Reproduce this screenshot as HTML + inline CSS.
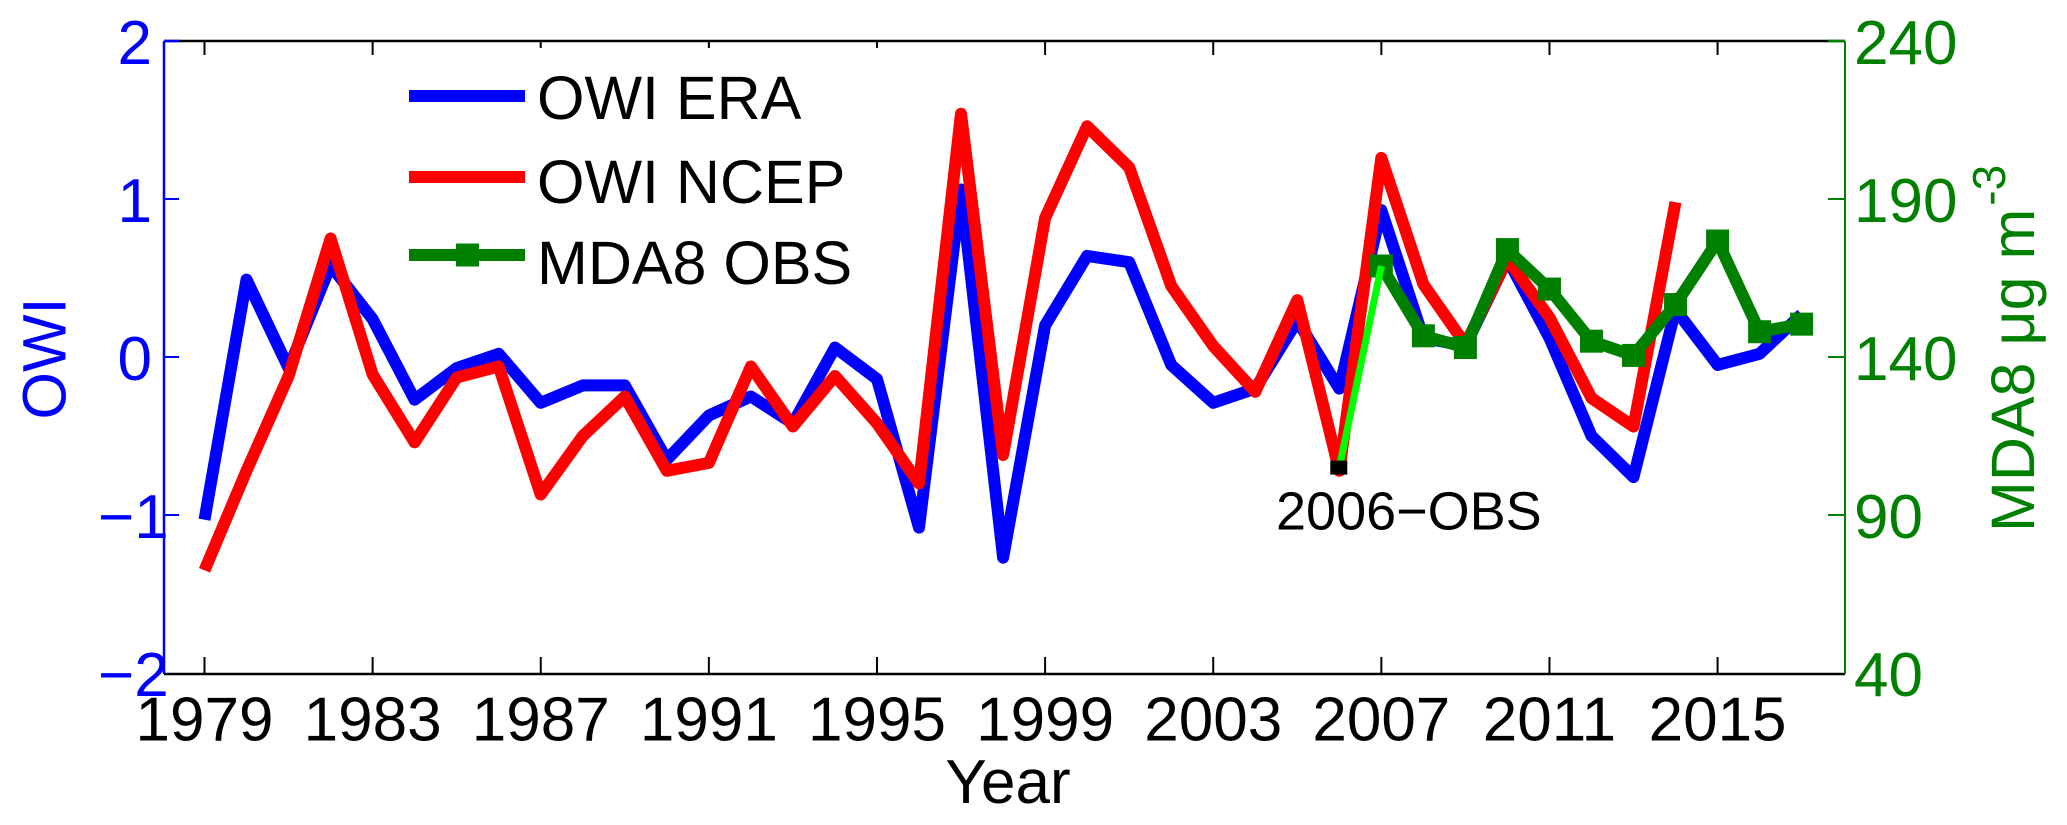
<!DOCTYPE html>
<html>
<head>
<meta charset="utf-8">
<title>OWI and MDA8</title>
<style>
html,body{margin:0;padding:0;background:#fff;width:2067px;height:825px;overflow:hidden}
svg{display:block}
text{font-family:"Liberation Sans",Arial,sans-serif}
</style>
</head>
<body>
<svg id="chart" xmlns="http://www.w3.org/2000/svg" width="2067" height="825" viewBox="0 0 2067 825">
  <rect x="0" y="0" width="2067" height="825" fill="#fff"/>
  <g id="axes"></g>
  <g id="series"></g>
  <g id="legend">
    <line x1="409" y1="96" x2="525" y2="96" stroke="#0000ff" stroke-width="12"/>
    <text x="537" y="119" font-size="61" fill="#000">OWI ERA</text>
    <line x1="409" y1="177" x2="525" y2="177" stroke="#ff0000" stroke-width="12"/>
    <text x="537" y="203" font-size="61" fill="#000">OWI NCEP</text>
    <line x1="409" y1="255" x2="525" y2="255" stroke="#008000" stroke-width="12"/>
    <rect x="456" y="243.5" width="23" height="23" fill="#008000"/>
    <text x="537" y="284" font-size="61" fill="#000">MDA8 OBS</text>
  </g>
  <text x="1008" y="803" font-size="62" text-anchor="middle" fill="#000">Year</text>
  <text transform="translate(65.5,358.5) rotate(-90)" font-size="61" text-anchor="middle" fill="#0000ff">OWI</text>
  <text transform="translate(2034,532) rotate(-90)" font-size="61" fill="#008000">MDA8 μg m<tspan font-size="46" dy="-29" dx="3">-3</tspan></text>
  <text x="1276" y="529.5" font-size="54" fill="#000">2006−OBS</text>
</svg>
<script>
var xTicks = [1979, 1983, 1987, 1991, 1995, 1999, 2003, 2007, 2011, 2015];
var leftTicks = [2, 1, 0, -1, -2];
var rightTicks = [240, 190, 140, 90, 40];

var eraYears = [1979,1980,1981,1982,1983,1984,1985,1986,1987,1988,1989,1990,1991,1992,1993,1994,1995,1996,1997,1998,1999,2000,2001,2002,2003,2004,2005,2006,2007,2008,2009,2010,2011,2012,2013,2014,2015,2016,2017];
var eraValues = [-1.03,0.49,-0.07,0.58,0.24,-0.27,-0.07,0.02,-0.29,-0.18,-0.18,-0.65,-0.37,-0.25,-0.42,0.06,-0.14,-1.08,1.06,-1.27,0.2,0.64,0.6,-0.05,-0.29,-0.2,0.23,-0.2,0.93,0.12,0.07,0.62,0.12,-0.5,-0.76,0.3,-0.05,0.02,0.27];

var ncepYears = [1979,1980,1981,1982,1983,1984,1985,1986,1987,1988,1989,1990,1991,1992,1993,1994,1995,1996,1997,1998,1999,2000,2001,2002,2003,2004,2005,2006,2007,2008,2009,2010,2011,2012,2013,2014];
var ncepValues = [-1.35,-0.72,-0.12,0.75,-0.11,-0.54,-0.13,-0.06,-0.87,-0.5,-0.25,-0.72,-0.67,-0.06,-0.44,-0.12,-0.42,-0.8,1.54,-0.62,0.88,1.46,1.2,0.45,0.07,-0.22,0.36,-0.72,1.26,0.46,0.08,0.62,0.25,-0.26,-0.44,0.98];

var obsYears = [2007,2008,2009,2010,2011,2012,2013,2014,2015,2016,2017];
var obsValues = [168.8,146.7,143,174,161.5,145,140.5,156.6,176.7,148,150.4];

var obs2006Value = 105;

var NS = 'http://www.w3.org/2000/svg';
function xScale(year) { return 204.5 + (year - 1979) * 42.03; }
function yLeft(v) { return 357 - v * 158; }
function yRight(v) { return 41 + (240 - v) * 158 / 50; }

function make(parent, tag, attrs, txt) {
  var el = document.createElementNS(NS, tag);
  for (var k in attrs) el.setAttribute(k, attrs[k]);
  if (txt !== undefined) el.textContent = txt;
  parent.appendChild(el);
  return el;
}
function pts(years, values, yf) {
  return years.map(function (y, i) { return xScale(y).toFixed(1) + ',' + yf(values[i]).toFixed(1); }).join(' ');
}

var axes = document.getElementById('axes');
var series = document.getElementById('series');
var LEFT = 164, RIGHT = 1845, TOP = 41, BOTTOM = 674;

var el;
el = make(axes, 'line', {x1: LEFT, y1: TOP, x2: RIGHT, y2: TOP, stroke: '#000', 'stroke-width': 2.5});


el = make(axes, 'line', {x1: LEFT, y1: TOP, x2: LEFT + 16, y2: TOP, stroke: '#0000ff', 'stroke-width': 2.5});


el = make(axes, 'line', {x1: RIGHT - 17, y1: TOP, x2: RIGHT, y2: TOP, stroke: '#008000', 'stroke-width': 2.5});


el = make(axes, 'line', {x1: LEFT, y1: BOTTOM, x2: RIGHT, y2: BOTTOM, stroke: '#000', 'stroke-width': 2.5});


el = make(axes, 'line', {x1: LEFT, y1: TOP, x2: LEFT, y2: BOTTOM, stroke: '#0000ff', 'stroke-width': 2.5});


el = make(axes, 'line', {x1: RIGHT, y1: TOP, x2: RIGHT, y2: BOTTOM, stroke: '#008000', 'stroke-width': 2});



xTicks.forEach(function (t) {
  var x = xScale(t);
  var topLen = (t >= 1987 && t <= 1995) ? 7 : 14;
  var a = make(axes, 'line', {x1: x, y1: BOTTOM, x2: x, y2: BOTTOM - 17, stroke: '#000', 'stroke-width': 2});
  
  
  var b = make(axes, 'line', {x1: x, y1: TOP, x2: x, y2: TOP + topLen, stroke: '#000', 'stroke-width': 2});
  
  
  var c = make(axes, 'text', {x: x, y: 740.5, 'font-size': 62, 'text-anchor': 'middle', fill: '#000'}, String(t));
  
  
});

leftTicks.forEach(function (t) {
  var y = yLeft(t);
  if (t !== 2 && t !== -2) {
    var a = make(axes, 'line', {x1: LEFT, y1: y, x2: LEFT + 15, y2: y, stroke: '#0000ff', 'stroke-width': 2});
    
    
  }
  var label = t < 0 ? '\u2212' + Math.abs(t) : String(t);
  var c = make(axes, 'text', {x: t < 0 ? 98 : 117.5, y: y + 23, 'font-size': 62, fill: '#0000ff'}, label);
  
  
});

rightTicks.forEach(function (t) {
  var y = yRight(t);
  if (t !== 240 && t !== 40) {
    var a = make(axes, 'line', {x1: RIGHT - 17, y1: y, x2: RIGHT, y2: y, stroke: '#008000', 'stroke-width': 2});
    
    
  }
  var c = make(axes, 'text', {x: 1854, y: y + 23, 'font-size': 62, fill: '#008000'}, String(t));
  
  
});

var lineAttrs = {fill: 'none', 'stroke-width': 12, 'stroke-linejoin': 'round', 'stroke-linecap': 'butt'};
function polyline(points, color) {
  var attrs = {points: points, stroke: color};
  for (var k in lineAttrs) attrs[k] = lineAttrs[k];
  return make(series, 'polyline', attrs);
}

var eraLine = polyline(pts(eraYears, eraValues, yLeft), '#0000ff');



var ncepLine = polyline(pts(ncepYears, ncepValues, yLeft), '#ff0000');



var obsLine = polyline(pts(obsYears, obsValues, yRight), '#008000');



obsYears.forEach(function (yr, i) {
  var m = make(series, 'rect', {x: xScale(yr) - 11.5, y: yRight(obsValues[i]) - 11.5, width: 23, height: 23, fill: '#008000'});
  
  
});

var lime = make(series, 'line', {x1: xScale(2006), y1: yRight(obs2006Value), x2: xScale(obsYears[0]), y2: yRight(obsValues[0]), stroke: '#00ff00', 'stroke-width': 7});



var blackMark = make(series, 'rect', {x: xScale(2006) - 9, y: yRight(obs2006Value) - 7, width: 17, height: 14, fill: '#000'});


</script>
</body>
</html>
